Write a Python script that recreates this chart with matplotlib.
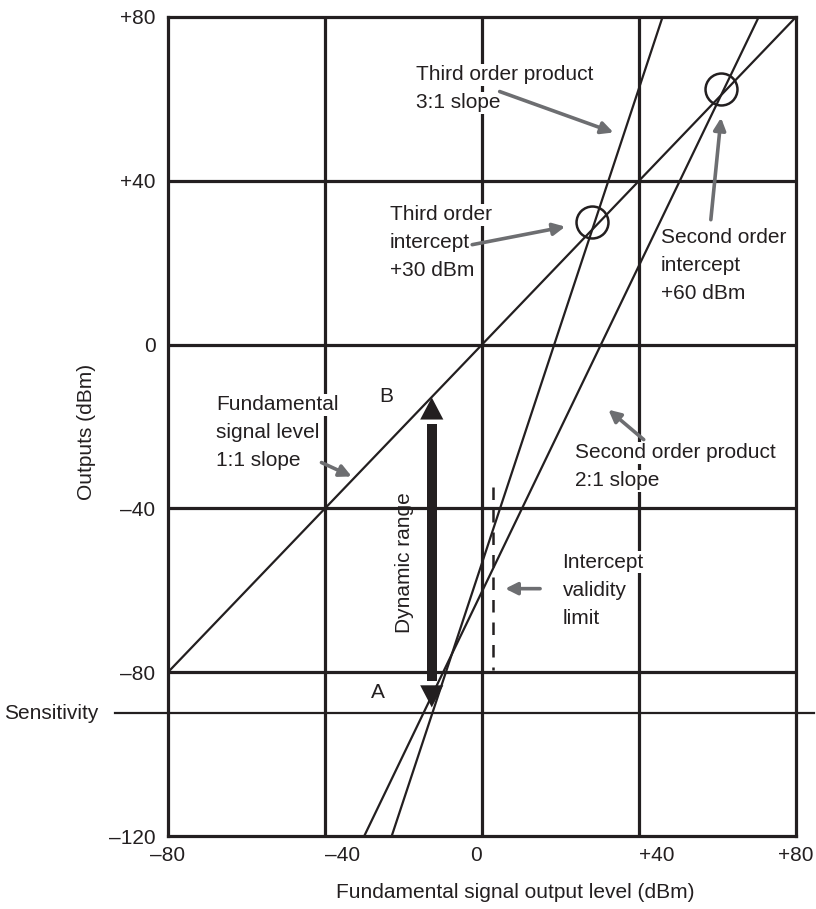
import matplotlib
matplotlib.use('Agg')
from matplotlib import pyplot as plt
from matplotlib.patches import FancyArrow

plt.rcParams['font.family'] = ['Liberation Sans', 'DejaVu Sans']
plt.rcParams['font.size'] = 15

ink = '#231f20'
grey = '#6d6e71'

# signal lines (x ends, y ends)
fund_x = [-80, 80]
fund_y = [-80, 80]
third_x = [-23, 46]
third_y = [-120, 80]
second_x = [-30, 70.5]
second_y = [-120, 80]

# intercept points (circles)
icpt_x = [28, 61]
icpt_y = [30, 62.5]

sens_level = -90
sens_x = [-93.6, 84.7]
limit_x = 2.8
limit_y = [-34.7, -79.4]
dyn_x = -12.8
dyn_y = [-12.9, -88.6]   # B (top) and A (bottom)

xticks = [-80, -40, 0, 40, 80]
xticklabels = ['\u201380', '\u201340', '0', '+40', '+80']
yticks = [-120, -80, -40, 0, 40, 80]
yticklabels = ['\u2013120', '\u201380', '\u201340', '0', '+40', '+80']

# annotation text blocks: (left x, first line y, lines)
notes = [
    (-16.9, 65.9, ['Third order product', '3:1 slope']),
    (-23.5, 31.7, ['Third order', 'intercept', '+30 dBm']),
    (45.5, 26.1, ['Second order', 'intercept', '+60 dBm']),
    (-67.8, -14.7, ['Fundamental', 'signal level', '1:1 slope']),
    (23.8, -26.4, ['Second order product', '2:1 slope']),
    (20.5, -53.2, ['Intercept', 'validity', 'limit']),
]
# grey pointer arrows: tail -> tip
arrow_tail = [(4.5, 61.8), (-2.5, 24.4), (58.3, 30.5), (-40.9, -28.8), (41.2, -23.2), (14.8, -59.6)]
arrow_tip = [(33.5, 51.8), (21.2, 28.8), (60.9, 55.4), (-33.2, -32.2), (32.2, -15.9), (5.9, -59.6)]

fig = plt.figure(figsize=(8.16, 9.09), dpi=100)
ax = fig.add_axes([168/816, 1-836/909, 628/816, 819/909])
ax.set_xlim(-80, 80)
ax.set_ylim(-120, 80)

for x in xticks[1:-1]:
    ax.axvline(x, color=ink, lw=2.3, zorder=1)
for y in yticks[1:-1]:
    ax.axhline(y, color=ink, lw=2.3, zorder=1)
for s in ax.spines.values():
    s.set_linewidth(2.3)
    s.set_color(ink)

ax.set_xticks(xticks)
ax.set_xticklabels(xticklabels)
ax.set_yticks(yticks)
ax.set_yticklabels(yticklabels)
ax.tick_params(length=0, colors=ink)
ax.tick_params(axis='y', pad=9)
ax.tick_params(axis='x', pad=7)
for lab, ha in zip(ax.get_xticklabels(), ['center', 'left', 'right', 'left', 'center']):
    lab.set_ha(ha)

ax.plot(fund_x, fund_y, color=ink, lw=1.6, zorder=4)
ax.plot(third_x, third_y, color=ink, lw=1.6, zorder=4)
ax.plot(second_x, second_y, color=ink, lw=1.6, zorder=4)
ax.plot(icpt_x, icpt_y, 'o', ms=23, mfc='none', mec=ink, mew=1.8, zorder=5)

ax.plot(sens_x, [sens_level, sens_level], color=ink, lw=1.6, clip_on=False, zorder=4)
ax.text(-97.7, sens_level, 'Sensitivity', ha='right', va='center', color=ink)

ax.plot([limit_x, limit_x], limit_y, color=ink, lw=1.8, ls=(0, (5, 4)), zorder=4)

# dynamic range double arrow
head_len = 5.4
gap = 1.1
ax.plot([dyn_x, dyn_x], [dyn_y[0] - head_len - gap, dyn_y[1] + head_len + gap],
        color=ink, lw=7.2, solid_capstyle='butt', zorder=5)
ax.add_patch(FancyArrow(dyn_x, dyn_y[0] - head_len, 0, head_len, width=0, head_width=5.9,
                        head_length=head_len, length_includes_head=True, color=ink, lw=0, zorder=5))
ax.add_patch(FancyArrow(dyn_x, dyn_y[1] + head_len, 0, -head_len, width=0, head_width=5.9,
                        head_length=head_len, length_includes_head=True, color=ink, lw=0, zorder=5))
ax.text(-19.7, -53.2, 'Dynamic range', rotation=90, ha='center', va='center', color=ink)
ax.text(-24.3, -12.7, 'B', ha='center', va='center', color=ink)
ax.text(-26.6, -85, 'A', ha='center', va='center', color=ink)

for x0, y0, lines in notes:
    for i, s in enumerate(lines):
        ax.text(x0, y0 - i*6.85, s, ha='left', va='center', color=ink, zorder=3,
                bbox=dict(fc='white', ec='none', pad=1))

for tail, tip in zip(arrow_tail, arrow_tip):
    ax.annotate('', xy=tip, xytext=tail,
                arrowprops=dict(arrowstyle='-|>', color=grey, lw=2.6, mutation_scale=18,
                                shrinkA=0, shrinkB=0), zorder=6)

fig.text(87/816, 1-432/909, 'Outputs (dBm)', rotation=90, ha='center', va='center', color=ink)
fig.text(515/816, 1-893/909, 'Fundamental signal output level (dBm)', ha='center', va='center', color=ink)

fig.savefig('out.png', dpi=100)
